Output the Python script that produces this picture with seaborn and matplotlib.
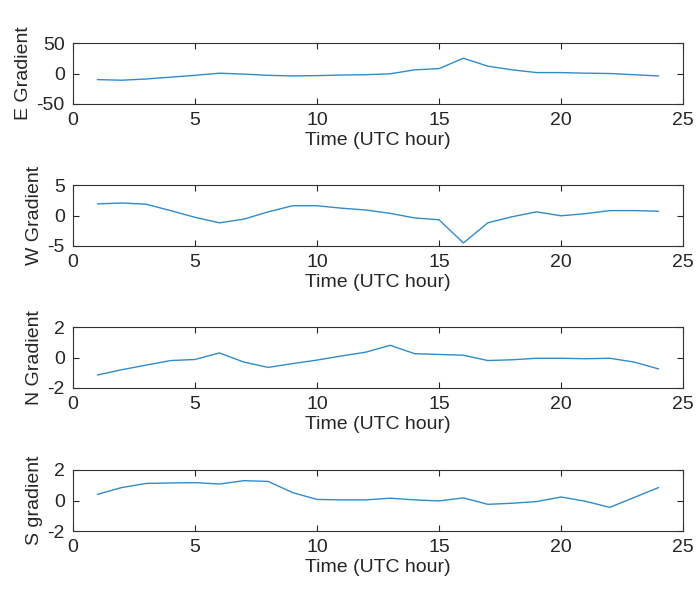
import numpy as np
import pandas as pd
import matplotlib
matplotlib.use("Agg")
import matplotlib.pyplot as plt
import seaborn as sns

hours = list(range(1, 25))
e_grad = [-10, -11, -9, -6, -3, 0.5, -1, -3, -4, -3.5, -2.5, -2, -0.5, 6, 8, 25,
          12, 6, 1.5, 1.5, 0.5, 0, -2, -4]
w_grad = [1.9, 2.05, 1.85, 0.8, -0.3, -1.2, -0.6, 0.6, 1.6, 1.6, 1.2, 0.9, 0.35,
          -0.4, -0.7, -4.5, -1.2, -0.2, 0.6, -0.05, 0.3, 0.8, 0.8, 0.7]
n_grad = [-1.15, -0.8, -0.5, -0.2, -0.13, 0.3, -0.3, -0.65, -0.4, -0.17, 0.1, 0.35,
          0.8, 0.25, 0.2, 0.15, -0.2, -0.15, -0.05, -0.05, -0.08, -0.05, -0.3, -0.75]
s_grad = [0.4, 0.85, 1.12, 1.15, 1.17, 1.08, 1.3, 1.25, 0.52, 0.07, 0.04, 0.04, 0.15,
          0.04, -0.03, 0.17, -0.25, -0.18, -0.07, 0.23, -0.05, -0.45, 0.2, 0.85]

ylabels = ["E Gradient", "W Gradient", "N Gradient", "S gradient"]
ylims = [(-50, 50), (-5, 5), (-2, 2), (-2, 2)]
yticks = [[-50, 0, 50], [-5, 0, 5], [-2, 0, 2], [-2, 0, 2]]
xticks = [0, 5, 10, 15, 20, 25]
xlabel = "Time (UTC hour)"

sns.set_theme(style="white")
plt.rcParams['font.family'] = ['Liberation Sans', 'DejaVu Sans']

W, H = 696, 608
fig = plt.figure(figsize=(W / 100, H / 100), dpi=100)

series = [e_grad, w_grad, n_grad, s_grad]
tops = [43, 185, 327, 470]
height = 61
left, right = 73, 683
fs = 14

for i, (vals, top) in enumerate(zip(series, tops)):
    ax = fig.add_axes([left / W, 1 - (top + height) / H, (right - left) / W, height / H])
    df = pd.DataFrame({"hour": hours, "value": vals})
    sns.lineplot(data=df, x="hour", y="value", ax=ax, color="#2f8ccc", linewidth=1.0)
    ax.set_xlim(0, 25)
    ax.set_ylim(*ylims[i])
    ax.set_xticks(xticks)
    ax.set_yticks(yticks[i])
    ax.set_xticklabels([str(t) for t in xticks])
    ax.set_yticklabels([str(t) for t in yticks[i]])
    ax.set_xlabel(xlabel, fontsize=fs, color="#262626", labelpad=2)
    ax.set_ylabel(ylabels[i], fontsize=fs, color="#262626", labelpad=3)
    ax.tick_params(axis="both", which="both", direction="in", length=4, width=0.8,
                   labelsize=fs, colors="#262626", top=True, right=True,
                   bottom=True, left=True, labeltop=False, labelright=False, pad=6)
    for sp in ax.spines.values():
        sp.set_color("#333333")
        sp.set_linewidth(0.8)
        sp.set_visible(True)

fig.savefig("out.png", dpi=100)
